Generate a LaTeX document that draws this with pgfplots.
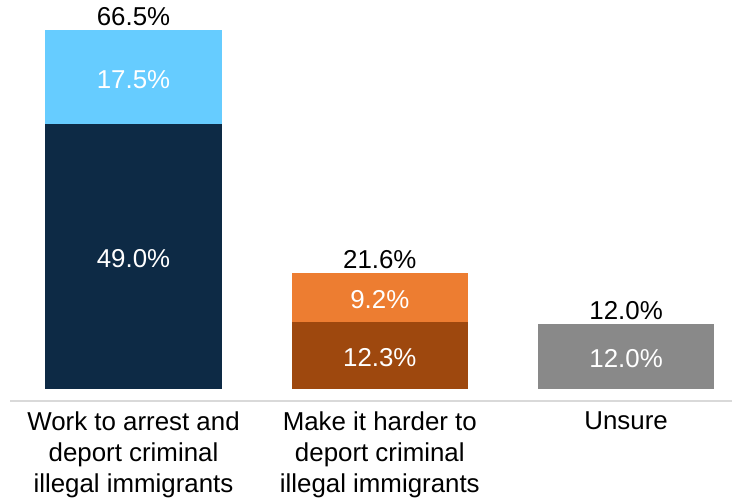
\documentclass[border=0pt]{standalone}
\usepackage{pgfplots}
\pgfplotsset{compat=1.18}
\usepackage{fontspec}
\setmainfont{Liberation Sans}
\definecolor{cnavy}{HTML}{0D2A45}
\definecolor{clblue}{HTML}{66CCFF}
\definecolor{corng}{HTML}{ED7D31}
\definecolor{cbrwn}{HTML}{9E480E}
\definecolor{cgry}{HTML}{898989}
\definecolor{caxl}{HTML}{D9D9D9}
\newcommand\lblfont{\fontsize{19.4}{23.25}\selectfont}
\tikzset{lbl/.style={font=\lblfont, inner sep=0pt, anchor=base}}
\begin{document}
\begin{tikzpicture}
\useasboundingbox (-7.5pt,-73.5pt) rectangle (541.5pt,300.75pt);
\begin{axis}[
  at={(0,0)}, anchor=south west,
  scale only axis, width=541.5pt, height=300.75pt,
  xmin=-0.5015, xmax=2.43, ymin=-2.28, ymax=72.06,
  ybar stacked, bar width=0.717,
  axis x line=bottom, hide y axis,
  x axis line style={-, draw=caxl, line width=1.1pt},
  xtick={0,1,2}, major tick length=0pt,
  xticklabels={{Work to arrest and\\deport criminal\\illegal immigrants},{Make it harder to\\deport criminal\\illegal immigrants},{Unsure}},
  xticklabel style={align=center, font=\lblfont, text=black, inner sep=0pt, yshift=-8pt},
  clip=false,
]
\addplot[fill=cnavy, draw=none] coordinates {(0,49.0) (1,0) (2,0)};
\addplot[fill=cbrwn, draw=none] coordinates {(0,0) (1,12.3) (2,0)};
\addplot[fill=cgry, draw=none] coordinates {(0,0) (1,0) (2,12.0)};
\addplot[fill=clblue, draw=none] coordinates {(0,17.5) (1,0) (2,0)};
\addplot[fill=corng, draw=none] coordinates {(0,0) (1,9.2) (2,0)};
\coordinate (a1) at (axis cs:0,24.5);
\coordinate (a2) at (axis cs:0,57.75);
\coordinate (a3) at (axis cs:0,66.5);
\coordinate (b1) at (axis cs:1,6.15);
\coordinate (b2) at (axis cs:1,16.9);
\coordinate (b3) at (axis cs:1,21.5);
\coordinate (c1) at (axis cs:2,6.0);
\coordinate (c3) at (axis cs:2,12.0);
\end{axis}
\node[lbl, text=white, yshift=-8.45pt] at (a1) {49.0\%};
\node[lbl, text=white, yshift=-8.45pt] at (a2) {17.5\%};
\node[lbl, text=black, yshift=3pt] at (a3) {66.5\%};
\node[lbl, text=white, yshift=-8.45pt] at (b1) {12.3\%};
\node[lbl, text=white, yshift=-8.45pt] at (b2) {9.2\%};
\node[lbl, text=black, yshift=3pt] at (b3) {21.6\%};
\node[lbl, text=white, yshift=-8.45pt] at (c1) {12.0\%};
\node[lbl, text=black, yshift=3pt] at (c3) {12.0\%};
\end{tikzpicture}
\end{document}
